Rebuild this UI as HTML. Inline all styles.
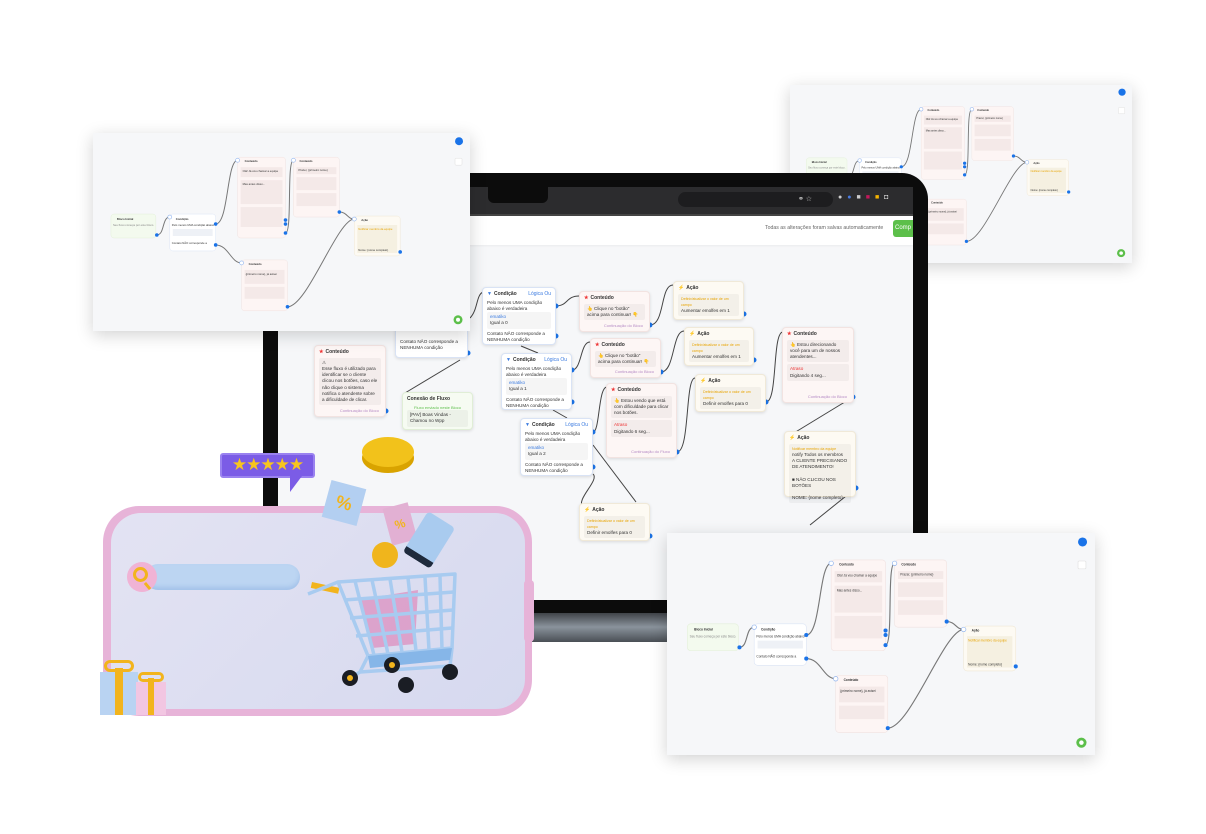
<!DOCTYPE html>
<html><head><meta charset="utf-8">
<style>
*{box-sizing:border-box;margin:0;padding:0}
body{width:1206px;height:834px;background:#fff;position:relative;overflow:hidden;font-family:"Liberation Sans",sans-serif}
.abs{position:absolute}
.n{position:absolute;border-radius:4px;box-shadow:0 1px 3px rgba(0,0,0,.12);font-size:4.6px;color:#333;line-height:1.35;padding:3px 4px}
.n .h{font-weight:bold;font-size:5px;margin-bottom:2px;display:flex;align-items:center;gap:2px}
.n .h .r{margin-left:auto;color:#3b7be0;font-weight:normal}
.n .b{background:rgba(0,0,0,.04);border-radius:2px;padding:2px 3px;margin-bottom:2px}
.n .f{color:#b58ac5;text-align:right;font-size:4px;position:absolute;right:6px;bottom:3px}
.c{background:#fdf6f5;border:1px solid #f2e3e1}
.a{background:#fdfaf3;border:1px solid #f0e9d8}
.w{background:#fff;border:1px solid #d9e3f5}
.g{background:#f6fbf2;border:1px solid #e0eed6}
.card{position:absolute;background:#f6f7f9;box-shadow:0 4px 16px rgba(0,0,0,.18);overflow:hidden}
</style></head><body>

<div class="card" style="left:790px;top:85px;width:342px;height:178px">
<svg width="342" height="178" viewBox="0 0 378 198" preserveAspectRatio="none"><use href="#mini"/></svg>
</div>

<div class="abs" style="left:230px;top:600px;width:440px;height:14px;background:#111"></div>
<div class="abs" style="left:230px;top:612px;width:440px;height:30px;background:linear-gradient(#3a3d42,#8a939c 50%,#4a4f55)"></div>
<div class="abs" style="left:263px;top:173px;width:665px;height:440px;background:#0c0c0c;border-radius:26px 26px 0 0"></div>
<div class="abs" style="left:278px;top:187px;width:635px;height:413px;background:#f6f7f9;overflow:hidden">
  <div class="abs" style="left:0;top:0;width:635px;height:27px;background:#2c2c2e"></div>
  <div class="abs" style="left:210px;top:0;width:60px;height:16px;background:#0c0c0c;border-radius:0 0 6px 6px"></div>
  <div class="abs" style="left:400px;top:5px;width:155px;height:15px;background:#1d1d1f;border-radius:8px"></div>
  <div class="abs" style="left:520px;top:8px;font-size:7px;color:#ccc">⚭ ☆</div>
  <div class="abs" style="left:560px;top:7px;font-size:7px;color:#ccc;letter-spacing:5px">●<span style="color:#4a7be0">●</span>■<span style="color:#c2185b">■</span><span style="color:#f5b400">■</span>◘</div>
  <div class="abs" style="left:0;top:27px;width:635px;height:2px;background:#444"></div>
  <div class="abs" style="left:0;top:29px;width:635px;height:29px;background:#fff;box-shadow:0 1px 2px rgba(0,0,0,.05)"></div>
  <div class="abs" style="left:487px;top:38px;font-size:5.2px;color:#666">Todas as alterações foram salvas automaticamente</div>
  <div class="abs" style="left:615px;top:33px;width:30px;height:17px;background:#5cbf4a;border-radius:3px;color:#fff;font-size:6px;padding:5px 2px">Comp</div>
</div>

<svg class="abs" style="left:0;top:0" width="1206" height="834">
<g fill="none" stroke="#444" stroke-width="1">
<path d="M470 318 C478 310,476 295,483 292"/>
<path d="M556 306 C568 306,566 296,579 296"/>
<path d="M650 325 C665 325,660 285,673 285"/>
<path d="M521 346 L538 353"/>
<path d="M572 370 C582 370,580 342,590 342"/>
<path d="M661 372 C675 372,672 331,684 331"/>
<path d="M553 410 L567 418"/>
<path d="M593 432 C600 432,598 387,607 387"/>
<path d="M677 452 C690 452,685 378,695 378"/>
<path d="M766 402 C778 402,772 332,783 332"/>
<path d="M853 397 L789 436"/>
<path d="M856 488 L810 525"/>
<path d="M593 474 C600 480,575 500,583 507"/>
<path d="M593 445 L636 502"/>
<path d="M460 360 L405 393"/>
</g>
<g fill="#1a73e8">
<circle cx="556" cy="306" r="2.5"/><circle cx="556" cy="336" r="2.5"/><circle cx="650" cy="325" r="2.5"/><circle cx="744" cy="314" r="2.5"/>
<circle cx="572" cy="370" r="2.5"/><circle cx="572" cy="402" r="2.5"/><circle cx="661" cy="372" r="2.5"/><circle cx="754" cy="360" r="2.5"/>
<circle cx="677" cy="452" r="2.5"/><circle cx="766" cy="402" r="2.5"/><circle cx="853" cy="397" r="2.5"/><circle cx="856" cy="488" r="2.5"/>
<circle cx="593" cy="432" r="2.5"/><circle cx="593" cy="467" r="2.5"/><circle cx="650" cy="536" r="2.5"/><circle cx="386" cy="411" r="2.5"/><circle cx="468" cy="353" r="2.5"/>
</g>
</svg>

<div class="n w" style="left:395px;top:327px;width:73px;height:31px"><div style="margin-top:8px">Contato NÃO corresponde a NENHUMA condição</div></div>
<div class="n c" style="left:314px;top:345px;width:72px;height:72px"><div class="h"><span style="color:#e33">★</span>Conteúdo</div><div class="b">⚠<br>Esse fluxo é utilizado para identificar se o cliente clicou nos botões, caso ele não clique o sistema notifica o atendente sobre a dificuldade de clicar.</div><div class="f">Continuação do Bloco</div></div>
<div class="n g" style="left:402px;top:392px;width:71px;height:38px"><div class="h">Conexão de Fluxo</div><div style="color:#5cbf4a;text-align:center;font-size:4px">Fluxo enviado neste Bloco</div><div class="b">[PAV] Boas Vindas - Chamou no Wpp</div></div>
<div class="n w" style="left:482px;top:287px;width:74px;height:58px"><div class="h"><span style="color:#3b7be0">▼</span>Condição<span class="r">Lógica Ou</span></div>Pelo menos UMA condição abaixo é verdadeira<div class="b"><span style="color:#3b7be0">ematiko</span><br>Igual a 0</div>Contato NÃO corresponde a NENHUMA condição</div>
<div class="n c" style="left:579px;top:291px;width:71px;height:41px"><div class="h"><span style="color:#e33">★</span>Conteúdo</div><div class="b">👆 Clique no "botão" acima para continuar! 👇</div><div class="f">Continuação do Bloco</div></div>
<div class="n a" style="left:673px;top:281px;width:71px;height:39px"><div class="h"><span style="color:#f5b400">⚡</span>Ação</div><div class="b"><span style="color:#e8a400;font-size:3.6px">Definir/atualizar o valor de um campo</span><br>Aumentar emolfes em 1</div></div>
<div class="n w" style="left:501px;top:353px;width:71px;height:57px"><div class="h"><span style="color:#3b7be0">▼</span>Condição<span class="r">Lógica Ou</span></div>Pelo menos UMA condição abaixo é verdadeira<div class="b"><span style="color:#3b7be0">ematiko</span><br>Igual a 1</div>Contato NÃO corresponde a NENHUMA condição</div>
<div class="n c" style="left:590px;top:338px;width:71px;height:40px"><div class="h"><span style="color:#e33">★</span>Conteúdo</div><div class="b">👆 Clique no "botão" acima para continuar! 👇</div><div class="f">Continuação do Bloco</div></div>
<div class="n a" style="left:684px;top:327px;width:70px;height:39px"><div class="h"><span style="color:#f5b400">⚡</span>Ação</div><div class="b"><span style="color:#e8a400;font-size:3.6px">Definir/atualizar o valor de um campo</span><br>Aumentar emolfes em 1</div></div>
<div class="n c" style="left:606px;top:383px;width:71px;height:75px"><div class="h"><span style="color:#e33">★</span>Conteúdo</div><div class="b">👆 Estou vendo que está com dificuldade para clicar nos botões.</div><div class="b"><span style="color:#e33">Atraso</span><br>Digitando 6 seg...</div><div class="f">Continuação do Fluxo</div></div>
<div class="n a" style="left:695px;top:374px;width:71px;height:38px"><div class="h"><span style="color:#f5b400">⚡</span>Ação</div><div class="b"><span style="color:#e8a400;font-size:3.6px">Definir/atualizar o valor de um campo</span><br>Definir emolfes para 0</div></div>
<div class="n c" style="left:782px;top:327px;width:72px;height:76px"><div class="h"><span style="color:#e33">★</span>Conteúdo</div><div class="b">👆 Estou direcionando você para um de nossos atendentes...</div><div class="b"><span style="color:#e33">Atraso</span><br>Digitando 4 seg...</div><div class="f">Continuação do Bloco</div></div>
<div class="n w" style="left:520px;top:418px;width:73px;height:58px"><div class="h"><span style="color:#3b7be0">▼</span>Condição<span class="r">Lógica Ou</span></div>Pelo menos UMA condição abaixo é verdadeira<div class="b"><span style="color:#3b7be0">ematiko</span><br>Igual a 2</div>Contato NÃO corresponde a NENHUMA condição</div>
<div class="n a" style="left:784px;top:431px;width:72px;height:66px"><div class="h"><span style="color:#f5b400">⚡</span>Ação</div><div class="b"><span style="color:#e8a400;font-size:3.6px">Notificar membro da equipe</span><br>notify Todos os membros<br>A CLIENTE PRECISANDO DE ATENDIMENTO!<br><br>■ NÃO CLICOU NOS BOTÕES<br><br>NOME: {nome completo}</div></div>
<div class="n a" style="left:579px;top:503px;width:71px;height:38px"><div class="h"><span style="color:#f5b400">⚡</span>Ação</div><div class="b"><span style="color:#e8a400;font-size:3.6px">Definir/atualizar o valor de um campo</span><br>Definir emolfes para 0</div></div>

<div class="card" style="left:93px;top:133px;width:377px;height:198px">
<svg width="377" height="198" viewBox="0 0 378 198">
<defs><g id="mini" font-family="Liberation Sans, sans-serif">
<rect width="378" height="198" fill="#f6f7f9"/>
<g fill="none" stroke="#777" stroke-width="1">
<path d="M64 102 C72 102,69 84,77 84"/><path d="M123 91 C136 91,134 27,145 27"/><path d="M123 112 C136 112,138 130,149 130"/>
<path d="M193 100 C200 100,194 27,201 27"/><path d="M247 79 C255 79,255 86,262 86"/><path d="M195 174 C215 174,245 86,262 86"/></g>
<rect x="18" y="81" width="45" height="24" rx="3" fill="#f3faee" stroke="#e3efd9" stroke-width=".5"/>
<rect x="77" y="81" width="46" height="37" rx="3" fill="#fff" stroke="#dbe4f5" stroke-width=".5"/>
<rect x="145" y="24" width="48" height="81" rx="3" fill="#fdf5f4" stroke="#f0e2e0" stroke-width=".5"/>
<rect x="201" y="24" width="46" height="60" rx="3" fill="#fdf5f4" stroke="#f0e2e0" stroke-width=".5"/>
<rect x="149" y="127" width="46" height="51" rx="3" fill="#fdf5f4" stroke="#f0e2e0" stroke-width=".5"/>
<rect x="262" y="83" width="46" height="40" rx="3" fill="#fdfaf3" stroke="#efe7d5" stroke-width=".5"/>
<g fill="#f4e9e8"><rect x="148" y="34" width="42" height="10"/><rect x="148" y="47" width="42" height="24"/><rect x="148" y="74" width="42" height="20"/><rect x="204" y="34" width="40" height="7"/><rect x="204" y="44" width="40" height="13"/><rect x="204" y="60" width="40" height="13"/><rect x="152" y="137" width="40" height="14"/><rect x="152" y="154" width="40" height="12"/></g>
<rect x="265" y="92" width="40" height="28" fill="#f5f0e1"/><rect x="80" y="96" width="40" height="7" fill="#eef1f6"/>
<g font-size="2.8" fill="#333"><text x="24" y="87" font-weight="bold">Bloco Inicial</text><text x="20" y="93" fill="#888">Seu fluxo começa por este bloco.</text>
<text x="83" y="87" font-weight="bold">Condição</text><text x="79" y="93">Pelo menos UMA condição abaixo</text><text x="79" y="111">Contato NÃO corresponde a</text>
<text x="152" y="29" font-weight="bold">Conteúdo</text><text x="150" y="39">Olá! Já vou chamar a equipe</text><text x="150" y="52">Mas antes disso...</text>
<text x="207" y="29" font-weight="bold">Conteúdo</text><text x="206" y="38">Prazer, {primeiro nome}</text>
<text x="156" y="132" font-weight="bold">Conteúdo</text><text x="153" y="142">{primeiro nome}, já avisei</text>
<text x="269" y="88" font-weight="bold">Ação</text><text x="266" y="97" fill="#e8a400">Notificar membro da equipe</text><text x="266" y="118">Nome: {nome completo}</text></g>
<g fill="#1a73e8"><circle cx="64" cy="102" r="1.8"/><circle cx="123" cy="91" r="1.8"/><circle cx="123" cy="112" r="1.8"/><circle cx="193" cy="100" r="1.8"/><circle cx="193" cy="87" r="1.8"/><circle cx="193" cy="91" r="1.8"/><circle cx="247" cy="79" r="1.8"/><circle cx="195" cy="174" r="1.8"/><circle cx="308" cy="119" r="1.8"/>
<circle cx="367" cy="8" r="4"/></g>
<g fill="#fff" stroke="#8fb3ee" stroke-width=".6"><circle cx="77" cy="84" r="2"/><circle cx="145" cy="27" r="2"/><circle cx="149" cy="130" r="2"/><circle cx="201" cy="27" r="2"/><circle cx="262" cy="86" r="2"/></g>
<rect x="363" y="25" width="7" height="7" rx="1" fill="#fff" stroke="#ddd" stroke-width=".5"/>
<circle cx="366" cy="187" r="4.5" fill="#5cbf4a"/><circle cx="366" cy="187" r="2" fill="#fff"/>
</g></defs>
<use href="#mini"/></svg>
</div>

<div class="card" style="left:667px;top:533px;width:428px;height:222px">
<svg width="428" height="222" viewBox="0 0 378 198" preserveAspectRatio="none"><use href="#mini"/></svg>
</div>

<div class="abs" style="left:362px;top:443px;width:52px;height:30px;border-radius:50%;background:#d9a300"></div>
<div class="abs" style="left:362px;top:437px;width:52px;height:30px;border-radius:50%;background:#f2c21b"></div>

<div class="abs" style="left:220px;top:453px;width:95px;height:25px;background:#7b5ce6;border:2px solid #9a82f0;border-radius:3px;color:#f7c51e;font-size:17px;line-height:20px;text-align:center;letter-spacing:-1px">★★★★★</div>
<div class="abs" style="left:290px;top:476px;width:0;height:0;border-right:12px solid transparent;border-top:16px solid #7b5ce6"></div>

<div class="abs" style="left:103px;top:506px;width:429px;height:210px;border-radius:36px;background:#e7b3d8"></div>
<div class="abs" style="left:111px;top:513px;width:414px;height:196px;border-radius:30px;background:linear-gradient(135deg,#e3e3f3,#d6d9ef)"></div>
<div class="abs" style="left:524px;top:580px;width:10px;height:62px;border-radius:4px;background:#e7b3d8"></div>
<div class="abs" style="left:145px;top:564px;width:155px;height:26px;border-radius:13px;background:#bcd5f2;box-shadow:inset 0 -3px 4px rgba(90,140,210,.25)"></div>
<div class="abs" style="left:127px;top:562px;width:30px;height:30px;border-radius:50%;background:#f0b3d5"></div>
<div class="abs" style="left:133px;top:567px;width:15px;height:15px;border-radius:50%;border:3px solid #f2b41d"></div>
<div class="abs" style="left:146px;top:582px;width:3px;height:8px;background:#f2b41d;transform:rotate(-40deg)"></div>

<div class="abs" style="left:100px;top:672px;width:38px;height:43px;background:#b9d3f2"></div>
<div class="abs" style="left:115px;top:668px;width:8px;height:47px;background:#f2b41d"></div>
<div class="abs" style="left:104px;top:660px;width:30px;height:12px;border:3px solid #f2b41d;border-radius:8px"></div>
<div class="abs" style="left:136px;top:682px;width:30px;height:33px;background:#f2c6e2"></div>
<div class="abs" style="left:148px;top:678px;width:6px;height:37px;background:#f2b41d"></div>
<div class="abs" style="left:138px;top:672px;width:26px;height:10px;border:3px solid #f2b41d;border-radius:6px"></div>

<div class="abs" style="left:326px;top:484px;width:36px;height:38px;background:#b3cff1;transform:rotate(15deg);color:#f2b41d;font-size:18px;font-weight:bold;text-align:center;line-height:38px">%</div>
<div class="abs" style="left:387px;top:505px;width:26px;height:38px;background:#e2b0d3;transform:rotate(-15deg);color:#f2b41d;font-size:12px;font-weight:bold;text-align:center;line-height:38px">%</div>
<div class="abs" style="left:372px;top:542px;width:26px;height:26px;border-radius:50%;background:#f0b51c"></div>
<div class="abs" style="left:405px;top:524px;width:48px;height:32px;background:#a9cbef;border-radius:4px;transform:rotate(-58deg);border-left:7px solid #1e2a3c"></div>
<svg class="abs" style="left:300px;top:560px" width="170" height="140">
<rect x="12" y="22" width="28" height="6" fill="#f2b41d" transform="rotate(12 12 22)"/>
<path d="M58 40 L72 88 L115 84 L118 30 Z" fill="#dc8fbf" opacity=".75"/>
<g stroke="#a8cbf0" stroke-width="3.5" fill="none" stroke-linejoin="round">
<path d="M8 34 L38 22 L155 14 L152 88 L68 96 L38 22"/>
<path d="M55 21 L74 95 M72 20 L88 94 M90 19 L102 92 M108 18 L116 91 M125 17 L129 90 M140 16 L142 89"/>
<path d="M44 40 L154 32 M50 58 L153 50 M56 76 L152 68"/>
<path d="M68 96 L60 112 L150 106 L152 88 M60 112 L50 118"/>
</g>
<path d="M68 96 L152 88 L150 100 L70 108 Z" fill="#86b6e8"/>
<g fill="#1a1d24"><circle cx="50" cy="118" r="8"/><circle cx="92" cy="105" r="8"/><circle cx="106" cy="125" r="8"/><circle cx="150" cy="112" r="8"/></g>
<g fill="#f2b41d"><circle cx="50" cy="118" r="3"/><circle cx="92" cy="105" r="3"/></g>
</svg>
</body></html>
